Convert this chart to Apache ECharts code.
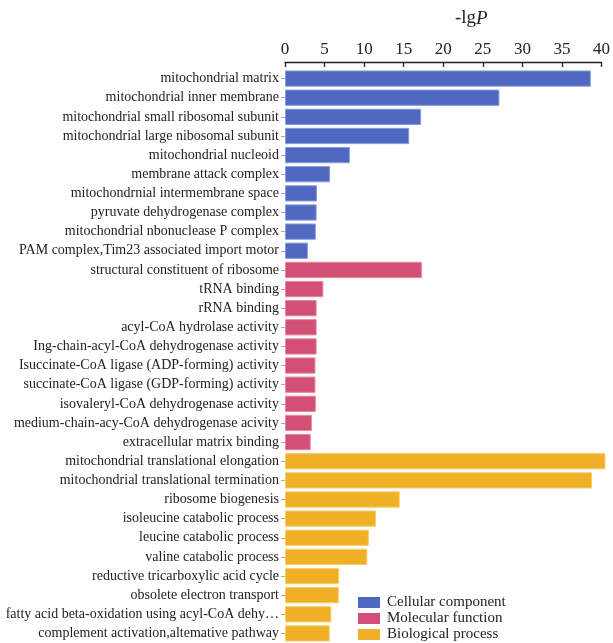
<!DOCTYPE html>
<html>
<head>
<meta charset="utf-8">
<script src="https://cdn.jsdelivr.net/npm/echarts@6/dist/echarts.min.js"></script>
<style>html,body{margin:0;padding:0;background:#fff;}#c{width:613px;height:643px;}</style>
</head>
<body>
<div id="c"></div>
<script>
const ccTerms = ["mitochondrial matrix","mitochondrial inner membrane","mitochondrial small ribosomal subunit","mitochondrial large nibosomal subunit","mitochondrial nucleoid","membrane attack complex","mitochondrnial intermembrane space","pyruvate dehydrogenase complex","mitochondrial nbonuclease P complex","PAM complex,Tim23 associated import motor"];
const ccValues = [38.65, 27.1, 17.2, 15.7, 8.2, 5.7, 4.05, 4.0, 3.9, 2.9];
const mfTerms = ["structural constituent of ribosome","tRNA binding","rRNA binding","acyl-CoA hydrolase activity","Ing-chain-acyl-CoA dehydrogenase activity","Isuccinate-CoA ligase (ADP-forming) activity","succinate-CoA ligase (GDP-forming) activity","isovaleryl-CoA dehydrogenase activity","medium-chain-acy-CoA dehydrogenase acivity","extracellular matrix binding"];
const mfValues = [17.3, 4.85, 4.0, 4.0, 4.0, 3.85, 3.85, 3.9, 3.4, 3.25];
const bpTerms = ["mitochondrial translational elongation","mitochondrial translational termination","ribosome biogenesis","isoleucine catabolic process","leucine catabolic process","valine catabolic process","reductive tricarboxylic acid cycle","obsolete electron transport","fatty acid beta-oxidation using acyl-CoA dehy\u2026","complement activation,altemative pathway"];
const bpValues = [40.5, 38.8, 14.5, 11.5, 10.6, 10.4, 6.85, 6.8, 5.85, 5.65];
const seriesNames = ["Cellular component","Molecular function","Biological process"];
const xTicks = [0,5,10,15,20,25,30,35,40];

const categories = ccTerms.concat(mfTerms, bpTerms);
const n = categories.length;
function pad(vals, start){
  const arr = new Array(n).fill('-');
  vals.forEach((v,i)=>{arr[start+i]=v;});
  return arr;
}
const colors = ['#5069C0','#D44F75','#F0B026'];
const borders = ['#8A9BDB','#E6889F','#F8CD6A'];
const groups = [ccValues, mfValues, bpValues];
let start = 0;
const series = groups.map((vals, k) => {
  const s = {
    name: seriesNames[k],
    type: 'bar',
    stack: 'all',
    clip: false,
    barCategoryGap: '15%',
    data: pad(vals, start),
    itemStyle: {color: colors[k], borderColor: borders[k], borderWidth: 1},
    emphasis: {disabled: true}
  };
  start += vals.length;
  return s;
});

const chart = echarts.init(document.getElementById('c'), null, {renderer:'canvas'});
chart.setOption({
  animation: false,
  textStyle: {fontFamily: '"Liberation Serif", "Times New Roman", serif'},
  grid: {left: 285, right: 9.5, top: 69, bottom: 0, containLabel: false},
  xAxis: {
    type: 'value',
    position: 'top',
    offset: 7,
    min: xTicks[0],
    max: xTicks[xTicks.length-1],
    interval: 5,
    name: '{a|-lg}{b|P}',
    nameLocation: 'middle',
    nameGap: 34,
    nameTextStyle: {
      padding: [0,0,0,56],
      rich: {
        a: {fontSize: 19, fontFamily: '"Liberation Serif", serif', color: '#222'},
        b: {fontSize: 19, fontStyle: 'italic', fontFamily: '"Liberation Serif", serif', color: '#222'}
      }
    },
    axisLine: {show: true, lineStyle: {color: '#222', width: 1.3}},
    axisTick: {show: true, inside: true, length: 5, lineStyle: {color: '#222', width: 1.3}},
    axisLabel: {fontSize: 17, color: '#222', margin: 4, fontFamily: '"Liberation Serif", serif'},
    splitLine: {show: false}
  },
  yAxis: {
    type: 'category',
    data: categories,
    inverse: true,
    axisLine: {show: false},
    axisTick: {show: true, length: 4, alignWithLabel: true, lineStyle: {color: '#aaa'}},
    axisLabel: {fontSize: 14, color: '#222', margin: 6, fontFamily: '"Liberation Serif", serif', interval: 0}
  },
  legend: {
    orient: 'vertical',
    left: 358,
    top: 595,
    width: 200,
    height: 60,
    padding: 0,
    itemWidth: 22,
    itemHeight: 11,
    itemGap: 1,
    icon: 'rect',
    itemStyle: {borderWidth: 0},
    textStyle: {fontSize: 15, color: '#222', fontFamily: '"Liberation Serif", serif', padding: [0,0,0,2]},
    data: seriesNames
  },
  series: series
});
</script>
</body>
</html>
